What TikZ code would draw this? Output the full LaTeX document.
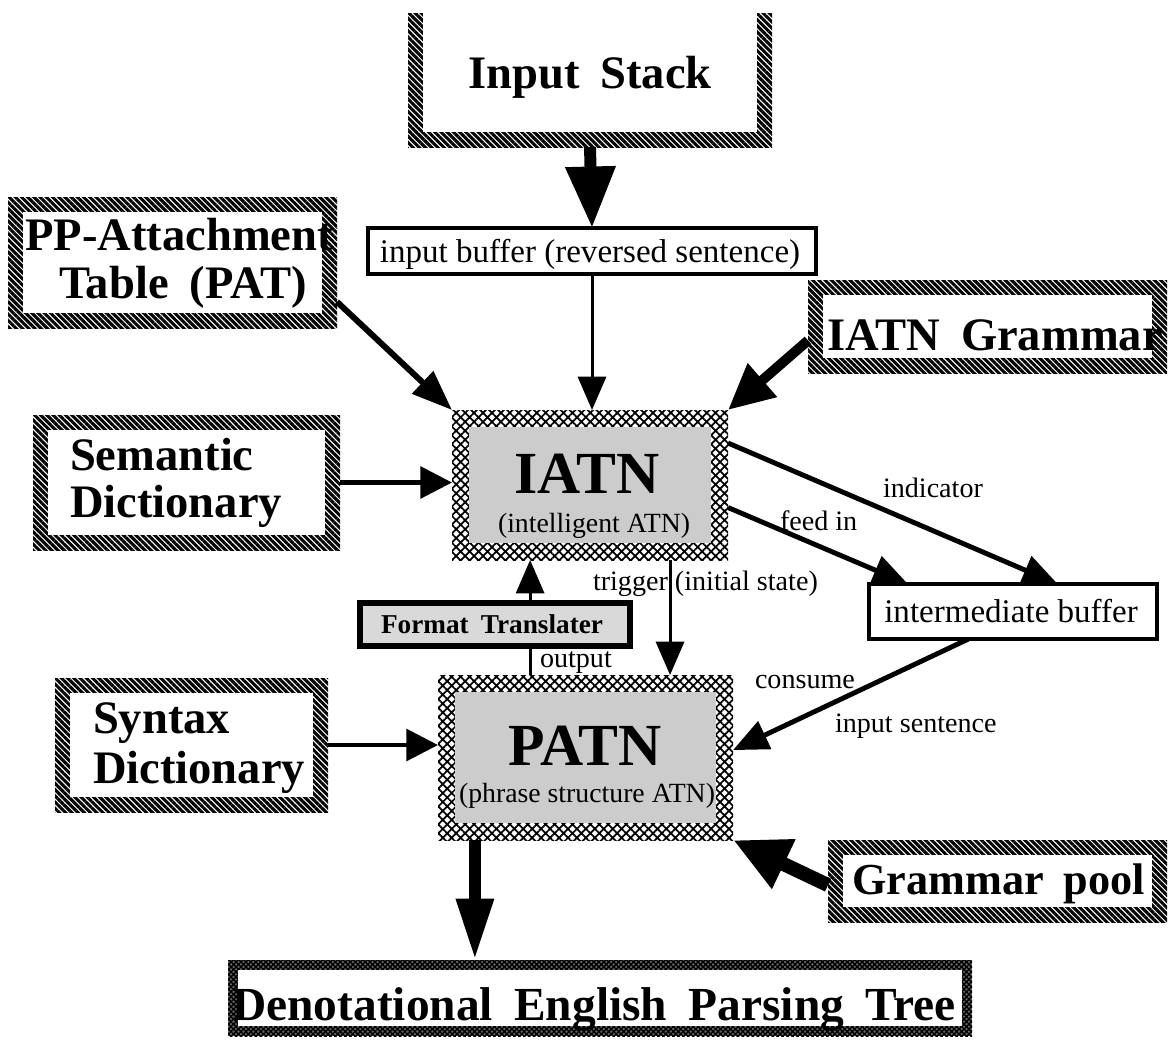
\documentclass[tikz,border=0pt]{standalone}
\usepackage{fontspec}
\setmainfont{Liberation Serif}
\newfontfamily\dgBoxFam[WordSpace=1.35]{Liberation Serif}
\newfontfamily\dgWideFam[WordSpace=1.8]{Liberation Serif}
\usetikzlibrary{arrows.meta,patterns.meta,fit,calc}

% font shortcuts
\newcommand\dgBig{\dgBoxFam\bfseries\fontsize{26.5}{30}\selectfont}
\newcommand\dgPool{\dgBoxFam\bfseries\fontsize{25.2}{30}\selectfont}
\newcommand\dgTree{\dgWideFam\bfseries\fontsize{27}{30}\selectfont}
\newcommand\dgAtn{\dgBoxFam\bfseries\fontsize{34}{38}\selectfont}
\newcommand\dgSub{\fontsize{15.8}{18}\selectfont}
\newcommand\dgLbl{\fontsize{16}{18}\selectfont}
\newcommand\dgBuf{\fontsize{18.8}{22}\selectfont}
\newcommand\dgFt{\dgBoxFam\bfseries\fontsize{15.5}{18}\selectfont}

\tikzset{
  hatchframe/.style={
    pattern={Lines[angle=-45,distance=2.5pt,line width=1.75pt]},
    path picture={\fill[white]
      ([shift={(0.3cm,0.3cm)}]path picture bounding box.south west) rectangle
      ([shift={(-0.3cm,-0.3cm)}]path picture bounding box.north east);}},
  crossframe/.style={
    pattern={Hatch[angle=45,distance=3.6pt,line width=1pt]},
    path picture={\fill[black!20]
      ([shift={(0.34cm,0.34cm)}]path picture bounding box.south west) rectangle
      ([shift={(-0.34cm,-0.34cm)}]path picture bounding box.north east);}},
  darkframe/.style={
    preaction={fill=black!60},
    pattern={Hatch[angle=45,distance=2pt,line width=0.8pt]},
    path picture={\fill[white]
      ([shift={(0.2cm,0.2cm)}]path picture bounding box.south west) rectangle
      ([shift={(-0.2cm,-0.2cm)}]path picture bounding box.north east);}},
  plainbox/.style={draw=black,line width=2.2pt,fill=white},
  graybox/.style={draw=black,line width=3pt,fill=black!15},
  heavyarrow/.style={line width=6.8pt,-{Triangle[width=27pt,length=35pt]}},
  downarrow/.style={line width=6.8pt,-{Triangle[width=20pt,length=35pt]}},
  poolarrow/.style={line width=8pt,-{Triangle[width=29pt,length=32pt]}},
  grammararrow/.style={line width=5.7pt,-{Triangle[width=24pt,length=26pt]}},
  pparrow/.style={line width=3.4pt,-{Triangle[width=17pt,length=23pt]}},
  midarrow/.style={line width=2.8pt,-{Triangle[width=17pt,length=20pt]}},
  dictarrow/.style={line width=2.3pt,-{Triangle[width=18pt,length=18pt]}},
  thinarrow/.style={line width=1.7pt,-{Triangle[width=16pt,length=19pt]}},
  thinline/.style={line width=1.7pt},
}

\begin{document}
\begin{tikzpicture}[x=0.02cm,y=-0.02cm,
  every node/.style={inner sep=0pt,outer sep=0pt}]
\useasboundingbox (0,0) rectangle (1169,1039);

% ---- boxes ----
\begin{scope}
  \clip (0,13) rectangle (1169,1039);
  \node[hatchframe, fit={(408,-5) (772,147)}] (stack) {};
\end{scope}
\node[hatchframe, fit={(8,197) (337,328)}]    (pat) {};
\node[hatchframe, fit={(808,280) (1167,373)}] (igram) {};
\node[hatchframe, fit={(33,415) (340,550)}]   (sem) {};
\node[hatchframe, fit={(55,678) (328,812)}]   (syn) {};
\node[hatchframe, fit={(828,840) (1167,922)}] (pool) {};
\node[crossframe, fit={(452,410) (728,560)}]  (iatn) {};
\node[crossframe, fit={(438,675) (733,840)}]  (patn) {};
\node[darkframe,  fit={(228,960) (972,1036)}] (tree) {};
\node[plainbox,   fit={(368,228) (816,274)}]  (ibuf) {};
\node[plainbox,   fit={(869,584) (1157,639)}] (mbuf) {};
\node[graybox,    fit={(360,603) (630,646)}]  (ftrans) {};

% ---- texts ----
\node[anchor=base, font=\dgBig] (tstack) at (590,88) {Input Stack};
\node[anchor=base, font=\dgBig] (tpat1) at (179,250) {PP-Attachment};
\node[anchor=base, font=\dgBig] (tpat2) at (183,298) {Table (PAT)};
\node[anchor=base, font=\dgBig] (tigram) at (995,350) {IATN Grammar};
\node[anchor=base west, font=\dgBig] (tsem1) at (70,470) {Semantic};
\node[anchor=base west, font=\dgBig] (tsem2) at (70,517) {Dictionary};
\node[anchor=base west, font=\dgBig] (tsyn1) at (93,733) {Syntax};
\node[anchor=base west, font=\dgBig] (tsyn2) at (93,783) {Dictionary};
\node[anchor=base west, font=\dgPool] (tpool) at (852,894) {Grammar pool};
\node[anchor=base, font=\dgTree] (ttree) at (594,1020) {Denotational English Parsing Tree};
\node[anchor=base, font=\dgAtn] (tiatn) at (587,493) {IATN};
\node[anchor=base, font=\dgSub] (tiatn2) at (594,532) {(intelligent ATN)};
\node[anchor=base, font=\dgAtn] (tpatn) at (585,765) {PATN};
\node[anchor=base, font=\dgSub] (tpatn2) at (587,802) {(phrase structure ATN)};
\node[anchor=base, font=\dgFt] (tft) at (492,633) {Format Translater};
\node[anchor=base, font=\dgBuf] (tibuf) at (590,262) {input buffer (reversed sentence)};
\node[anchor=base, font=\dgBuf] (tmbuf) at (1011,622) {intermediate buffer};

% ---- connector labels ----
\node[anchor=base west, font=\dgLbl] (lind) at (883,497) {indicator};
\node[anchor=base west, font=\dgLbl] (lfeed) at (780,530) {feed in};
\node[anchor=base west, font=\dgLbl] (ltrig) at (593,590) {trigger (initial state)};
\node[anchor=base west, font=\dgLbl] (lout) at (540,667) {output};
\node[anchor=base west, font=\dgLbl] (lcons) at (755,688) {consume};
\node[anchor=base west, font=\dgLbl] (linp) at (835,732) {input sentence};

% ---- connectors ----
\draw[heavyarrow] (stack.south) -- (ibuf.north);
\draw[thinarrow] (ibuf.south) -- (ibuf.south |- iatn.north);
\draw[pparrow] ($(pat.north east)!0.8!(pat.south east)$) -- (iatn.north west);
\draw[grammararrow] ($(igram.north west)!0.65!(igram.south west)$) -- (iatn.north east);
\draw[dictarrow] (sem.east) -- (sem.east -| iatn.west);
\draw[dictarrow] (syn.east) -- (syn.east -| patn.west);

\coordinate (trigtop) at ($(iatn.south west)!0.79!(iatn.south east)$);
\draw[thinarrow] (trigtop) -- (trigtop |- patn.north);

\coordinate (ftx) at ($(ftrans.north west)!0.63!(ftrans.north east)$);
\draw[thinarrow] (ftx) -- (ftx |- iatn.south);
\draw[thinline] (ftx |- patn.north) -- (ftx |- ftrans.south);

\draw[midarrow] ($(iatn.north east)!0.65!(iatn.south east)$)
  -- ($(mbuf.north west)!0.135!(mbuf.north east)$);
\draw[midarrow] ($(iatn.north east)!0.22!(iatn.south east)$)
  -- ($(mbuf.north west)!0.655!(mbuf.north east)$);
\draw[midarrow] ($(mbuf.south west)!0.345!(mbuf.south east)$)
  -- ($(patn.north east)!0.455!(patn.south east)$);

\draw[poolarrow] ($(pool.north west)!0.55!(pool.south west)$) -- (patn.south east);

\coordinate (treex) at ($(patn.south west)!0.125!(patn.south east)$);
\draw[downarrow] (treex) -- (treex |- tree.north);
\end{tikzpicture}
\end{document}
